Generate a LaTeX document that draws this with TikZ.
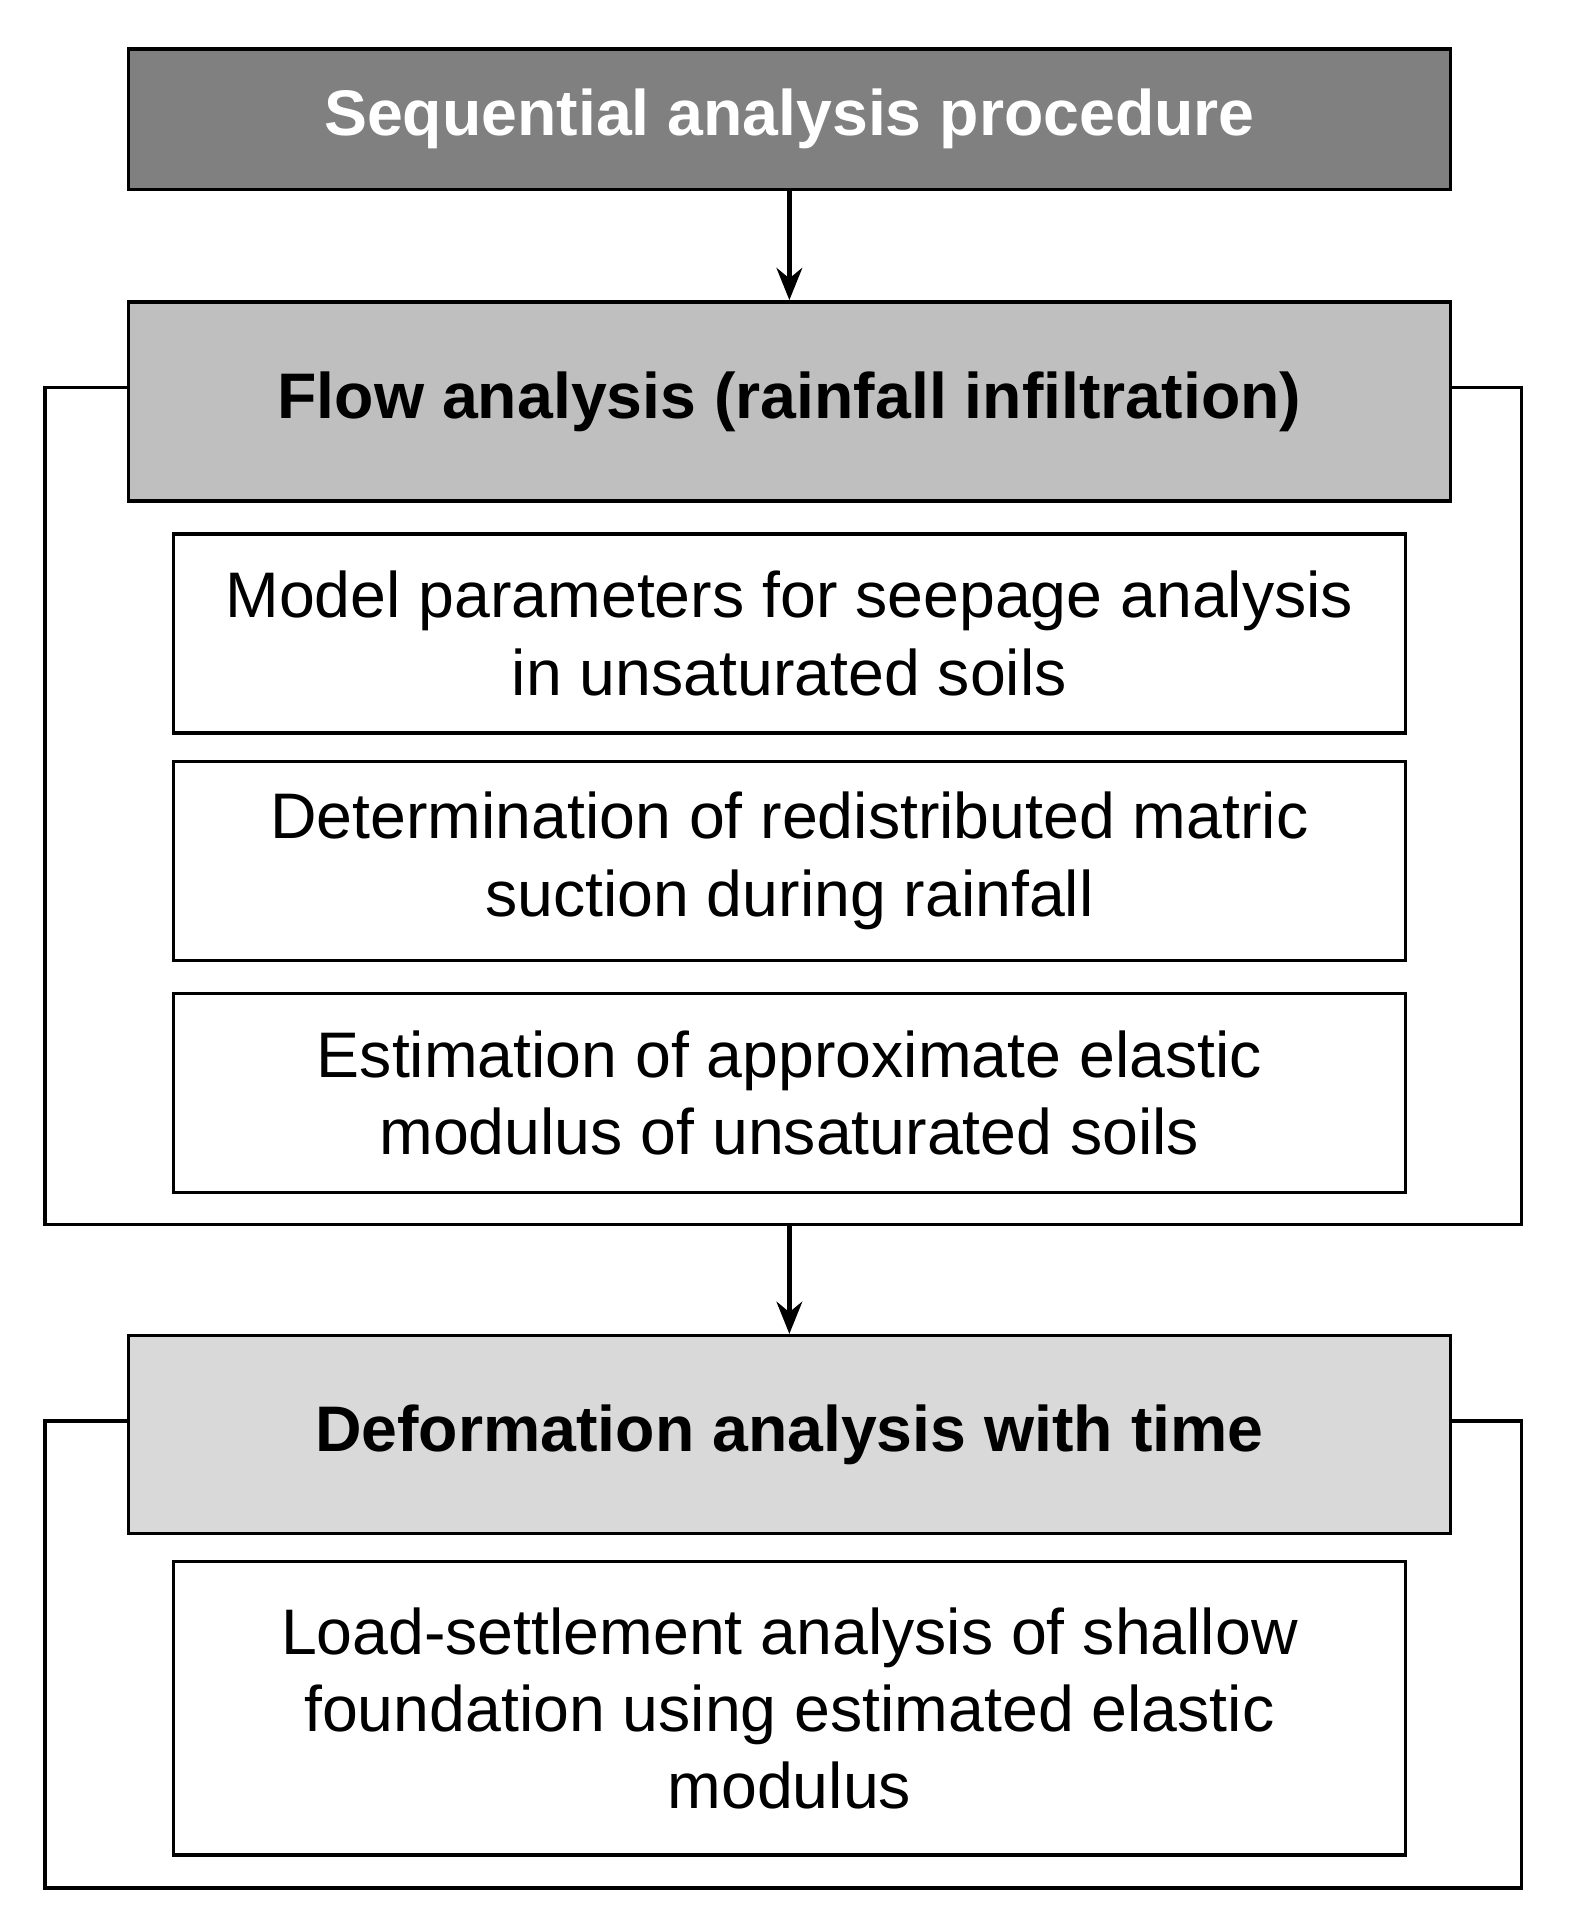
\documentclass[tikz,border=0pt]{standalone}
\usepackage{fontspec}
\setmainfont{Liberation Sans}
\usetikzlibrary{positioning,arrows.meta}

\begin{document}
\begin{tikzpicture}[x=0.02cm,y=0.02cm,
    box/.style={draw=black,line width=1.6pt,rectangle,inner sep=0pt,
      align=center,minimum width=1008*0.02cm,minimum height=163*0.02cm,
      font=\fontsize{30}{36}\selectfont},
    head/.style={box,minimum width=1082*0.02cm,font=\fontsize{30}{36}\selectfont\bfseries},
    arr/.style={-{Stealth[length=15pt,width=12pt]},line width=2pt},
    frame/.style={line width=1.6pt}]
  \useasboundingbox (0,0) rectangle (1290,-1568);

  \node[head,fill=black!50,text=white,minimum height=115*0.02cm] (seq) at (646,-97.5) {Sequential analysis procedure};
  \node[head,fill=black!25] (flow) at (646,-328.5) {Flow analysis (rainfall infiltration)};
  \node[box] (param) at (646,-518.5) {Model parameters for seepage analysis\\in unsaturated soils};
  \node[box] (suction) at (646,-704.5) {Determination of redistributed matric\\suction during rainfall};
  \node[box] (modulus) at (646,-894.5) {Estimation of approximate elastic\\modulus of unsaturated soils};
  \node[head,fill=black!15,minimum height=162*0.02cm] (deform) at (646,-1174) {Deformation analysis with time};
  \node[box,minimum height=240*0.02cm] (settle) at (646,-1398) {Load-settlement analysis of shallow\\foundation using estimated elastic\\modulus};

  \coordinate (flowbot) at (646,-1002);
  \draw[frame] (105,-317) -- (37,-317) |- (1245,-1002) |- (1187,-317);
  \draw[frame] (105,-1163) -- (37,-1163) |- (1245,-1545) |- (1187,-1163);

  \draw[arr] (seq) -- (flow);
  \draw[arr] (flowbot) -- (deform);
\end{tikzpicture}
\end{document}
